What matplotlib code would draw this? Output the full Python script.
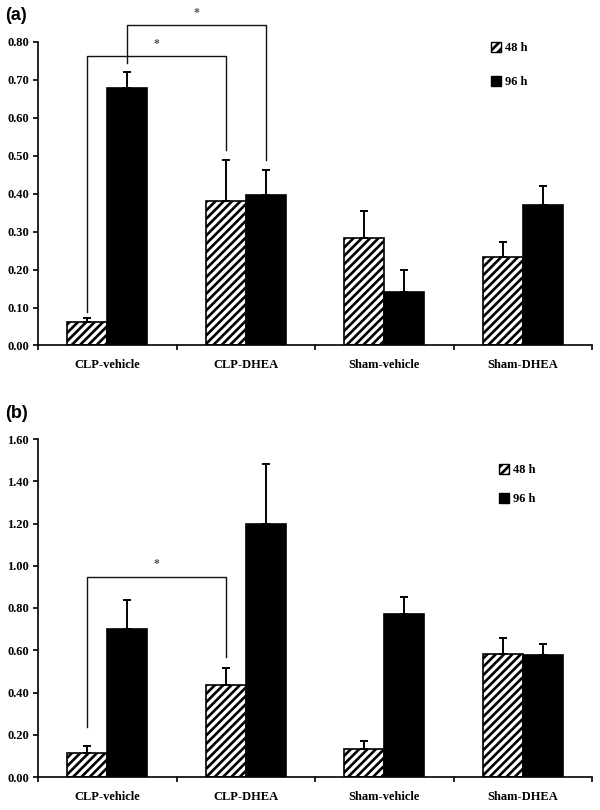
import numpy as np
import matplotlib
matplotlib.use('Agg')
import matplotlib.pyplot as plt
from matplotlib.patches import Patch

plt.rcParams['font.family'] = ['Liberation Serif', 'DejaVu Serif']
plt.rcParams['font.weight'] = 'bold'
plt.rcParams['hatch.linewidth'] = 1.9

groups = ['CLP-vehicle', 'CLP-DHEA', 'Sham-vehicle', 'Sham-DHEA']
series = ['48 h', '96 h']

# panel (a)
a_48 = [0.063, 0.380, 0.283, 0.234]
a_48_err = [0.010, 0.108, 0.072, 0.038]
a_96 = [0.680, 0.397, 0.140, 0.370]
a_96_err = [0.040, 0.065, 0.060, 0.050]
a_yticks = [0.0, 0.1, 0.2, 0.3, 0.4, 0.5, 0.6, 0.7, 0.8]
# brackets: (group1, series1, group2, series2, top, left end, right end)
a_brackets = [(0, 0, 1, 0, 0.763, 0.087, 0.515),
              (0, 1, 1, 1, 0.845, 0.745, 0.490)]

# panel (b)
b_48 = [0.115, 0.434, 0.132, 0.582]
b_48_err = [0.033, 0.081, 0.037, 0.076]
b_96 = [0.699, 1.200, 0.772, 0.579]
b_96_err = [0.141, 0.280, 0.080, 0.051]
b_yticks = [0.0, 0.2, 0.4, 0.6, 0.8, 1.0, 1.2, 1.4, 1.6]
b_brackets = [(0, 0, 1, 0, 0.947, 0.238, 0.568)]

W = 0.289


def panel(ax, v48, e48, v96, e96, yticks, brackets):
    x = np.arange(len(groups))
    ax.bar(x - W / 2, v48, W, color='white', edgecolor='black', hatch='////',
           linewidth=1.2, zorder=2)
    ax.bar(x + W / 2, v96, W, color='black', edgecolor='black',
           linewidth=1.2, zorder=2)
    ax.errorbar(x - W / 2, v48, yerr=[np.zeros(4), e48], fmt='none',
                ecolor='black', elinewidth=1.4, capsize=3, capthick=1.4, zorder=3)
    ax.errorbar(x + W / 2, v96, yerr=[np.zeros(4), e96], fmt='none',
                ecolor='black', elinewidth=1.4, capsize=3, capthick=1.4, zorder=3)

    ax.set_xlim(-0.5, len(groups) - 0.5)
    ax.set_ylim(yticks[0], yticks[-1])
    ax.set_yticks(yticks)
    ax.set_yticklabels(['%.2f' % t for t in yticks], fontsize=9)
    ax.set_xticks(x)
    ax.set_xticklabels(groups, fontsize=9)
    ax.set_xticks(np.arange(len(groups) + 1) - 0.5, minor=True)
    ax.tick_params(axis='x', which='major', length=0, pad=10)
    ax.tick_params(axis='x', which='minor', length=3.5, width=1.2, direction='out')
    ax.tick_params(axis='y', length=3.5, width=1.2, pad=3)
    for s in ['top', 'right']:
        ax.spines[s].set_visible(False)
    for s in ['left', 'bottom']:
        ax.spines[s].set_linewidth(1.2)

    for g1, s1, g2, s2, top, y1, y2 in brackets:
        xa = g1 + (s1 - 0.5) * W
        xb = g2 + (s2 - 0.5) * W
        ax.plot([xa, xa, xb, xb], [y1, top, top, y2], color='#111111',
                lw=1.0, clip_on=False, zorder=4)
        ax.text((xa + xb) / 2, top + yticks[-1] * 0.02, '*', ha='center',
                va='bottom', fontsize=8.5, color='#555555', clip_on=False)

    handles = [Patch(facecolor='white', edgecolor='black', hatch='////'),
               Patch(facecolor='black', edgecolor='black')]
    return handles


fig = plt.figure(figsize=(6, 8.1), dpi=100)
ax1 = fig.add_axes([38 / 600, 1 - 345.5 / 810, 554 / 600, 303.5 / 810])
ax2 = fig.add_axes([38 / 600, 1 - 777 / 810, 554 / 600, 338 / 810])

h = panel(ax1, a_48, a_48_err, a_96, a_96_err, a_yticks, a_brackets)
ax1.legend(h, series, loc='upper left', bbox_to_anchor=(485 / 600, 1 - 36 / 810),
           bbox_transform=fig.transFigure, frameon=False, fontsize=9,
           handlelength=0.8, handleheight=0.8, handletextpad=0.3,
           labelspacing=1.75, borderpad=0)

h = panel(ax2, b_48, b_48_err, b_96, b_96_err, b_yticks, b_brackets)
ax2.legend(h, series, loc='upper left', bbox_to_anchor=(493 / 600, 1 - 458 / 810),
           bbox_transform=fig.transFigure, frameon=False, fontsize=9,
           handlelength=0.8, handleheight=0.8, handletextpad=0.3,
           labelspacing=1.35, borderpad=0)

fig.text(5 / 600, 1 - 15 / 810, '(a)', fontsize=13, fontweight='bold',
         family=['Liberation Sans', 'DejaVu Sans'], va='center', ha='left')
fig.text(5 / 600, 1 - 413 / 810, '(b)', fontsize=13, fontweight='bold',
         family=['Liberation Sans', 'DejaVu Sans'], va='center', ha='left')

fig.savefig('out.png', dpi=100)
